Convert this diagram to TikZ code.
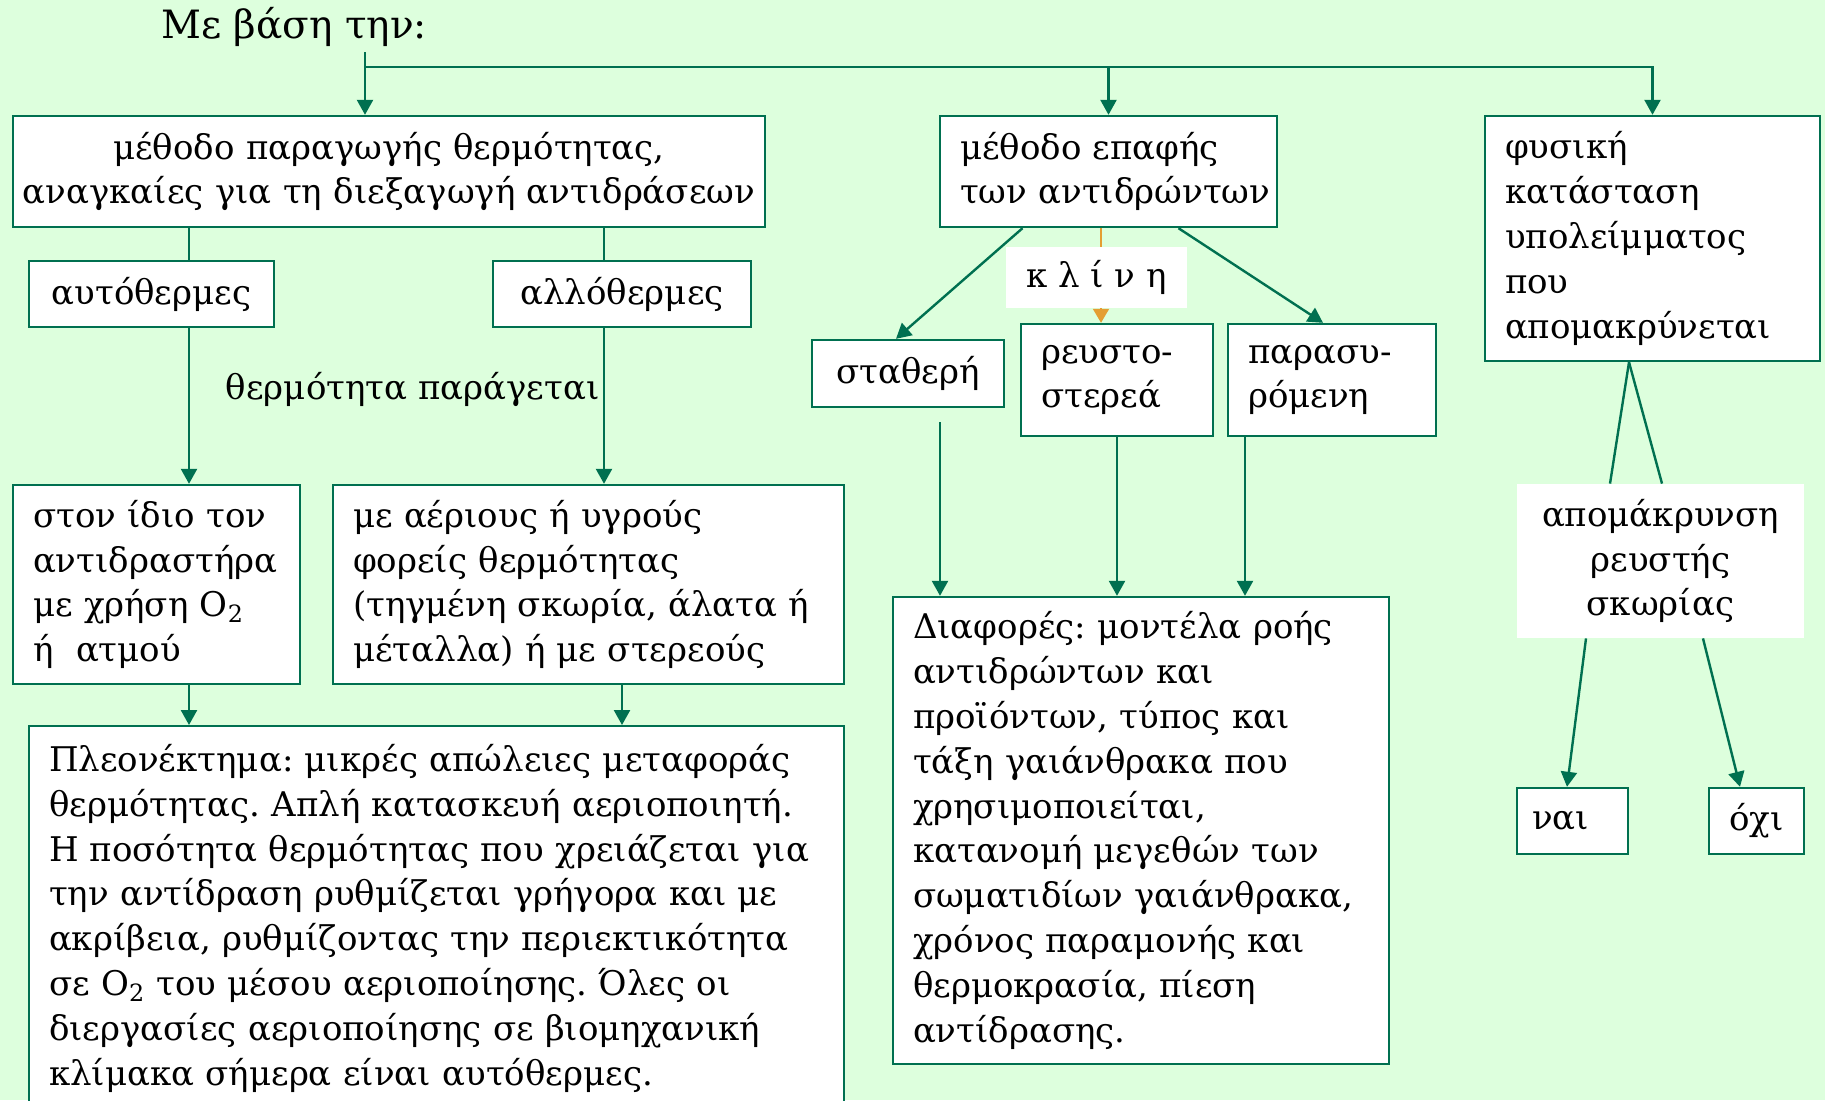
\documentclass[tikz,border=0pt]{standalone}
\usepackage{fontspec}
\setmainfont{DejaVu Serif}
\frenchspacing
\usepackage{tikz}
\usetikzlibrary{arrows.meta,positioning,calc}
\definecolor{bgGreen}{RGB}{221,255,221}
\definecolor{lineGreen}{RGB}{0,112,80}
\definecolor{bedOrange}{RGB}{228,158,50}

\begin{document}
\begin{tikzpicture}[x=0.5pt, y=-0.5pt,
    every node/.style={font=\fontsize{17}{22.4}\selectfont\frenchspacing, inner sep=0pt},
    box/.style={draw=lineGreen, line width=1.2pt, fill=white},
    tag/.style={fill=white},
    link/.style={draw=lineGreen, line width=1.2pt},
    arr/.style={link, -{Triangle[length=7.5pt, width=8pt]}}]

    % Background
    \fill[bgGreen] (0,0) rectangle (1825,1100);
    \useasboundingbox (0,0) rectangle (1825,1100);
    \clip (0,0) rectangle (1825,1100);

    \node[anchor=west, font=\fontsize{19.5}{22}\selectfont] (title) at (161,27) {Με βάση την:};

    % First level
    \node[box, minimum width=376pt, minimum height=55.5pt, text width=372pt, align=center] (heat) at (389,171.5)
        {μέθοδο παραγωγής θερμότητας,\\αναγκαίες για τη διεξαγωγή αντιδράσεων};
    \node[box, minimum width=168.5pt, minimum height=55.5pt, text width=148.5pt, align=left] (contact) at (1108.5,171.5)
        {μέθοδο~επαφής\\των~αντιδρώντων};
    \node[box, minimum width=167.5pt, minimum height=122.5pt, text width=147.5pt, align=left] (phys) at (1652.5,238.5)
        {φυσική\\κατάσταση\\υπολείμματος\\που\\απομακρύνεται};

    \coordinate (start) at (365,52);
    \coordinate (bus) at (365,67);
    \draw[arr] (start) -- (heat.north -| start);
    \draw[arr] (bus) -| (phys.north);
    \draw[arr] (contact.north |- bus) -- (contact.north);

    % Heat production branch
    \node[box, minimum width=122.5pt, minimum height=33pt] (autoth) at (151.5,294) {αυτόθερμες};
    \node[box, minimum width=129pt, minimum height=33pt] (alloth) at (622,294) {αλλόθερμες};
    \node[box, minimum width=143.5pt, minimum height=99.5pt, text width=123.5pt, align=left] (idio) at (156.5,584.5)
        {στον ίδιο τον\\αντιδραστήρα\\με χρήση O\textsubscript{2}\\ή \ ατμού};
    \node[box, minimum width=255.5pt, minimum height=99.5pt, text width=235.5pt, align=left] (gas) at (588.5,584.5)
        {με αέριους ή υγρούς\\φορείς θερμότητας\\(τηγμένη σκωρία, άλατα ή\\μέταλλα) ή με στερεούς};
    \node[box, anchor=north, minimum width=407.5pt, text width=387.5pt, inner ysep=9pt, align=left] (pleon) at (436.5,725)
        {Πλεονέκτημα: μικρές απώλειες μεταφοράς\\θερμότητας. Απλή κατασκευή αεριοποιητή.\\Η ποσότητα θερμότητας που χρειάζεται για\\την αντίδραση ρυθμίζεται γρήγορα και με\\ακρίβεια, ρυθμίζοντας την περιεκτικότητα\\σε O\textsubscript{2} του μέσου αεριοποίησης. Όλες οι\\διεργασίες αεριοποίησης σε βιομηχανική\\κλίμακα σήμερα είναι αυτόθερμες.};
    \node[anchor=east] (heatnote) at (600,389) {θερμότητα παράγεται};

    \coordinate (colA) at (189,0);
    \coordinate (colB) at (604,0);
    \coordinate (colC) at (622,0);
    \draw[link] (heat.south -| colA) -- (autoth.north -| colA);
    \draw[link] (heat.south -| colB) -- (alloth.north -| colB);
    \draw[arr] (autoth.south -| colA) -- (idio.north -| colA);
    \draw[arr] (alloth.south -| colB) -- (gas.north -| colB);
    \draw[arr] (idio.south -| colA) -- (pleon.north -| colA);
    \draw[arr] (gas.south -| colC) -- (pleon.north -| colC);

    % Contact branch
    \node[box, minimum width=96pt, minimum height=33.5pt] (fixed) at (908,373.5) {σταθερή};
    \node[box, minimum width=96pt, minimum height=56pt, text width=76pt, align=left] (fluid) at (1117,380) {ρευστο-\\στερεά};
    \node[box, minimum width=104pt, minimum height=56pt, text width=84pt, align=left] (entr) at (1332,380) {παρασυ-\\ρόμενη};
    \node[box, minimum width=248pt, minimum height=233.5pt, text width=228pt, align=left] (diff) at (1141,830.5)
        {Διαφορές: μοντέλα ροής\\αντιδρώντων και\\προϊόντων, τύπος και\\τάξη γαιάνθρακα που\\χρησιμοποιείται,\\κατανομή μεγεθών των\\σωματιδίων γαιάνθρακα,\\χρόνος παραμονής και\\θερμοκρασία, πίεση\\αντίδρασης.};

    \draw[arr] ([xshift=-43pt]contact.south) -- ([xshift=-6pt]fixed.north);
    \draw[arr] ([xshift=35pt]contact.south) -- ([xshift=-4.5pt]entr.north);
    \coordinate (bedx) at ([xshift=-8pt]fluid.north);
    \draw[draw=bedOrange, line width=0.9pt, -{Triangle[length=7pt, width=8pt]}] (bedx |- contact.south) -- (bedx);
    \node[tag, minimum width=90.5pt, minimum height=30.5pt] (bed) at (1096.5,277.5) {κ λ ί ν η};

    \coordinate (fixedout) at ([shift={(16pt,-7pt)}]fixed.south);
    \coordinate (entrout) at ([xshift=-43.5pt]entr.south);
    \draw[arr] (fixedout) -- (fixedout |- diff.north);
    \draw[arr] (fluid.south) -- (fluid.south |- diff.north);
    \draw[arr] (entrout) -- (entrout |- diff.north);

    % Residue branch
    \node[tag, minimum width=143.5pt, minimum height=77pt, align=center] (slag) at (1660.5,561) {απομάκρυνση\\ρευστής\\σκωρίας};
    \node[box, minimum width=55.5pt, minimum height=33pt, text width=40.5pt, align=left] (yes) at (1572.5,821) {ναι};
    \node[box, minimum width=47.5pt, minimum height=33pt] (no) at (1756.5,821) {όχι};

    \coordinate (apex) at ([xshift=-11.75pt]phys.south);
    \draw[link] (apex) -- ([xshift=-25.25pt]slag.north);
    \draw[link] (apex) -- ([xshift=0.75pt]slag.north);
    \draw[arr] ([xshift=-37.25pt]slag.south) -- ([xshift=-2.75pt]yes.north);
    \draw[arr] ([xshift=21.25pt]slag.south) -- ([xshift=-8.25pt]no.north);
\end{tikzpicture}
\end{document}
